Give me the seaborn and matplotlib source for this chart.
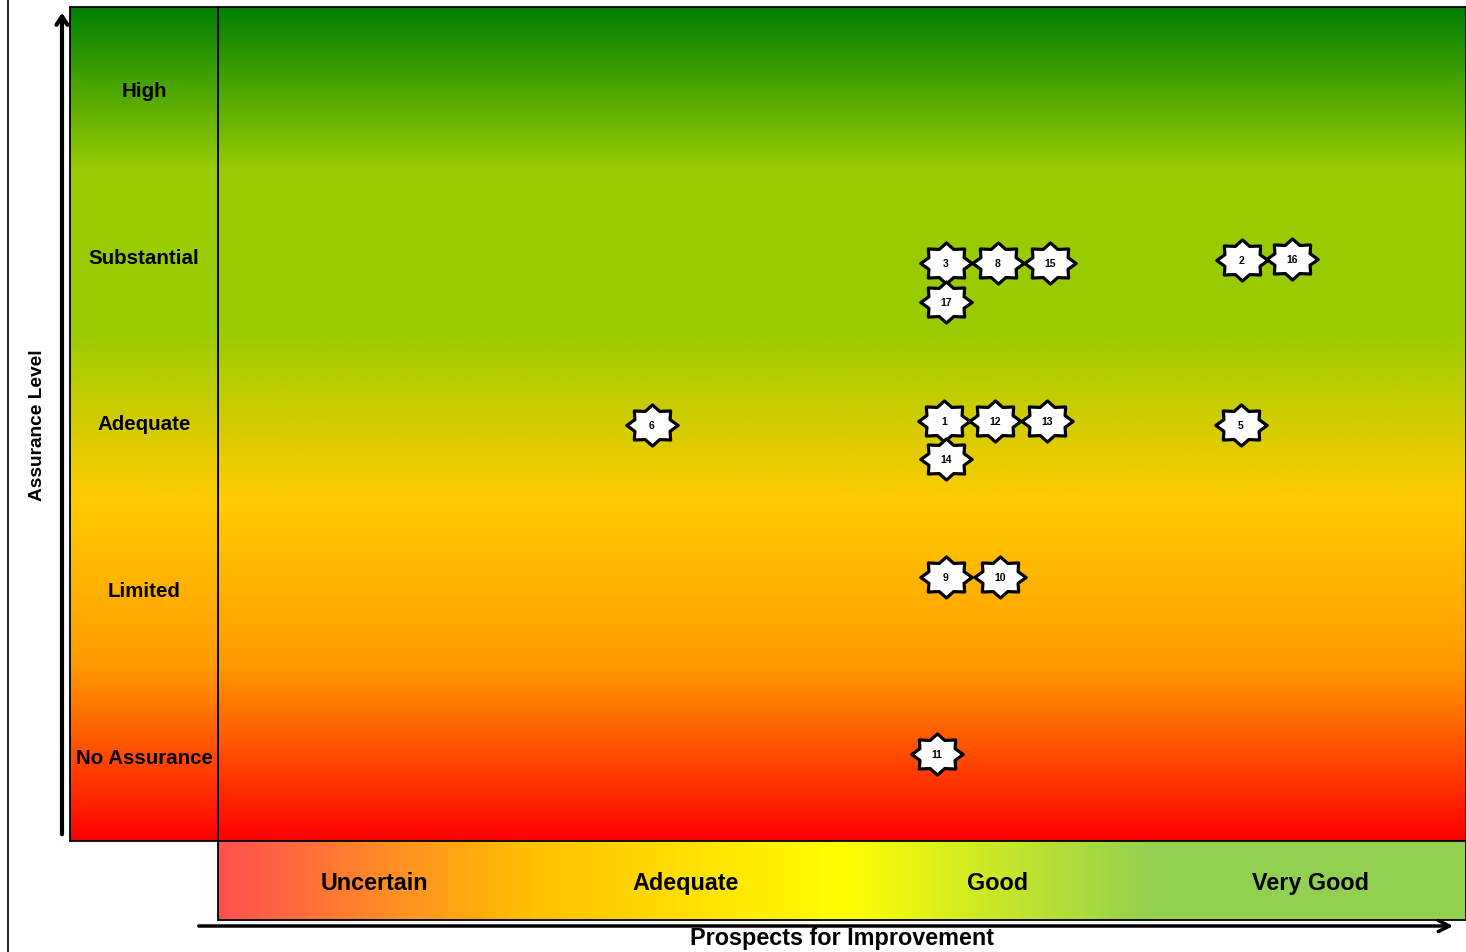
import numpy as np
import matplotlib
matplotlib.use("Agg")
import matplotlib.pyplot as plt
from matplotlib.colors import LinearSegmentedColormap
from matplotlib.path import Path
import seaborn as sns

sns.set_theme(style="white")
plt.rcParams["font.family"] = ["Liberation Sans", "DejaVu Sans"]

# Axis categories
assurance_levels = ["No Assurance", "Limited", "Adequate", "Substantial", "High"]
prospects = ["Uncertain", "Adequate", "Good", "Very Good"]

# Review items: id, prospect position, assurance position
item_ids = [3, 8, 15, 17, 2, 16, 6, 1, 12, 13, 14, 5, 9, 10, 11]
item_x = [2.333, 2.500, 2.667, 2.333, 3.282, 3.442, 1.391, 2.327, 2.490,
          2.657, 2.333, 3.279, 2.333, 2.506, 2.304]
item_y = [3.465, 3.465, 3.465, 3.231, 3.483, 3.489, 2.494, 2.518, 2.518,
          2.518, 2.290, 2.494, 1.583, 1.583, 0.522]

# Background colour ramps
vert_cmap = LinearSegmentedColormap.from_list(
    "assurance",
    [(0.0, "#FF0000"), (0.206, "#FF9900"), (0.41, "#FFCC00"),
     (0.614, "#99CC00"), (0.806, "#99CC00"), (1.0, "#008000")])
horiz_cmap = LinearSegmentedColormap.from_list(
    "prospects",
    [(0.0, "#FF5050"), (0.25, "#FFC000"), (0.5, "#FFFF00"),
     (0.75, "#92D050"), (1.0, "#92D050")])

W, H = 1466, 953
fig = plt.figure(figsize=(W / 100, H / 100), dpi=100)


def frac(x0, y0, x1, y1):
    return [x0 / W, 1 - y1 / H, (x1 - x0) / W, (y1 - y0) / H]


ax = fig.add_axes(frac(218, 8, 1466, 842))
ax_left = fig.add_axes(frac(70, 8, 218, 842))
ax_bot = fig.add_axes(frac(218, 842, 1466, 921))

grad_v = np.linspace(0, 1, 512)[:, None]
for a in (ax, ax_left):
    a.imshow(grad_v, cmap=vert_cmap, origin="lower", aspect="auto",
             extent=[0, 1, 0, 1], transform=a.transAxes, zorder=0)

grad_h = np.linspace(0, 1, 512)[None, :]
ax_bot.imshow(grad_h, cmap=horiz_cmap, aspect="auto",
              extent=[0, 1, 0, 1], transform=ax_bot.transAxes, zorder=0)

ax.set_xlim(0, len(prospects))
ax.set_ylim(0, len(assurance_levels))
ax_left.set_xlim(0, 1)
ax_left.set_ylim(0, len(assurance_levels))
ax_bot.set_xlim(0, len(prospects))
ax_bot.set_ylim(0, 1)

for a in (ax, ax_left, ax_bot):
    a.set_xticks([])
    a.set_yticks([])
    a.set_xlabel("")
    a.set_ylabel("")
    for s in a.spines.values():
        s.set_visible(True)
        s.set_color("black")
        s.set_linewidth(1.3)

# Row labels
for i, lab in enumerate(assurance_levels):
    ax_left.text(0.5, i + 0.5, lab, ha="center", va="center",
                 fontsize=14.8, fontweight="bold", color="black")

# Column labels
for i, lab in enumerate(prospects):
    ax_bot.text(i + 0.5, 0.47, lab, ha="center", va="center",
                fontsize=16.8, fontweight="bold", color="black")

# Eight-point star marker, slightly wider than tall
angles = np.arange(16) * np.pi / 8 + np.pi / 2
radii = np.where(np.arange(16) % 2 == 0, 1.0, 0.74)
star_verts = np.column_stack([1.25 * radii * np.cos(angles), radii * np.sin(angles)])
star_verts = np.vstack([star_verts, star_verts[:1]])
star = Path(star_verts, closed=True)

sns.scatterplot(x=item_x, y=item_y, marker=star, s=37 ** 2, color="white",
                edgecolor="black", linewidth=2.3, ax=ax, zorder=3, legend=False)
for n, x, y in zip(item_ids, item_x, item_y):
    ax.text(x, y, str(n), ha="center", va="center", fontsize=7.5,
            fontweight="bold", color="black", zorder=4)

# Axis arrows and titles
fig.add_artist(plt.Line2D([8 / W, 8 / W], [0, 1], color="black", lw=1.2))
fig.patches.append(matplotlib.patches.FancyArrowPatch(
    (62 / W, 1 - 838 / H), (62 / W, 1 - 11 / H), transform=fig.transFigure,
    arrowstyle="->,head_length=6,head_width=4", lw=3, color="black",
    mutation_scale=1))
fig.patches.append(matplotlib.patches.FancyArrowPatch(
    (196 / W, 1 - 927 / H), (1456 / W, 1 - 927 / H), transform=fig.transFigure,
    arrowstyle="->,head_length=8,head_width=4", lw=2.5, color="black",
    mutation_scale=1))

fig.text(38 / W, 1 - 425 / H, "Assurance Level", rotation=90, ha="center",
         va="center", fontsize=13.8, fontweight="bold", color="black")
fig.text(842 / W, 1 - 939 / H, "Prospects for Improvement", ha="center",
         va="center", fontsize=16.8, fontweight="bold", color="black")

fig.savefig("out.png", dpi=100, facecolor="white")
